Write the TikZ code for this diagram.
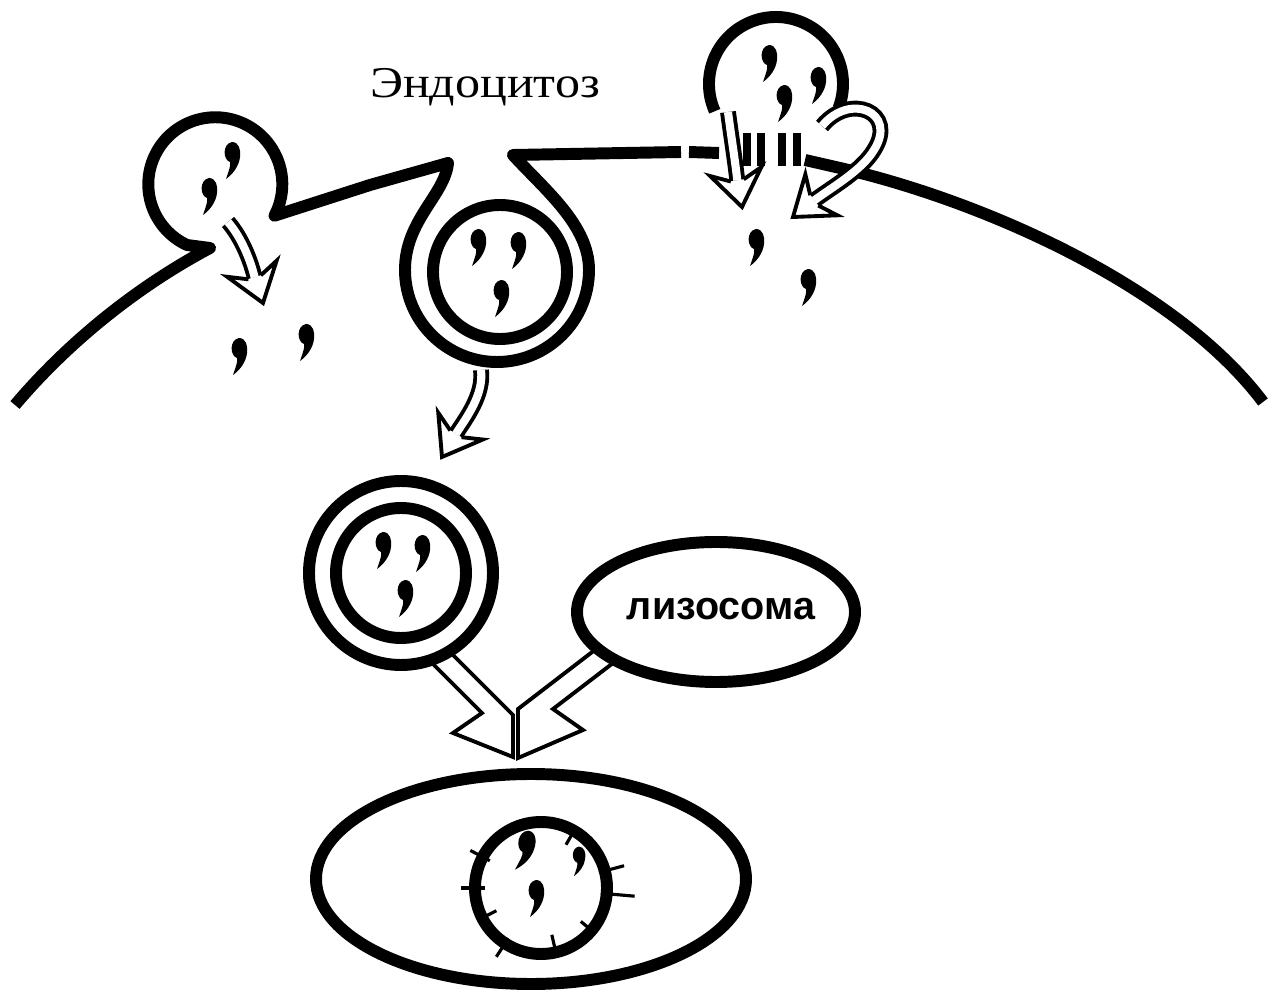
\documentclass[tikz,border=0pt]{standalone}
\usepackage{fontspec}
\setmainfont{Liberation Serif}
\newfontfamily\labelfont{Liberation Sans}
\usetikzlibrary{calc}

\tikzset{
	membrane/.style={line width=6.8pt, line join=round},
	hollow/.style={double=white, double distance=4.6pt, line width=2.2pt},
	hollowbox/.style={fill=white, line width=2.2pt, line join=miter},
	arrowhead/.pic={
		\fill[white] (0,0) -- (-36,-26) -- (-27,-6.5) -- (-27,6.5) -- (-36,26) -- cycle;
		\draw[line width=2.2pt, line join=miter] (-27,-6.5) -- (-36,-26) -- (0,0) -- (-36,26) -- (-27,6.5);
	},
	speck/.pic={
		\fill (1,-18) .. controls (8,-18) and (10,-10) .. (9,-3)
			.. controls (8,6) and (2,14) .. (-5,19)
			.. controls (-2,10) and (0,5) .. (-1,2)
			.. controls (-8,0) and (-9,-16) .. (1,-18) -- cycle;
	}
}

\begin{document}
\begin{tikzpicture}[x=0.02cm, y=-0.02cm]
	\useasboundingbox (0,0) rectangle (1272,996);

	\pgfmathsetmacro{\tipback}{27}

	% draw membrane: budding vesicle, then the pit
	\draw[membrane] (15,405) .. controls (70,340) and (140,285) .. (210,248) -- (187,245)
		arc[start angle=115, end angle=388, radius=67] -- (370,185) -- (448,163)
		.. controls (445,195) and (405,220) .. (405,270)
		arc[start angle=180, end angle=0, radius=92]
		.. controls (589,225) and (545,190) .. (513,155) -- (681,152);
	\draw[membrane] (689,152) -- (719,153); % broken piece

	% draw fusing vesicle
	\draw[membrane] (776,84) ++(156:67) arc[start angle=156, end angle=381, radius=67];
	\foreach \x in {733,747,761,782,797}
		\draw[line width=4.5pt] (\x,133) -- (\x,166);
	\draw[membrane] (805,160) -- (840,168) .. controls (980,200) and (1175,285) .. (1263,402);

	% draw vesicle inside the pit
	\draw[membrane] (500,272) circle[radius=67];

	% draw arrows from the lower vesicle and the lysosome
	\draw[hollowbox] (429,660) -- (482,713) -- (453,733) -- (513,757) -- (513,715) -- (450,652) -- cycle;
	\draw[hollowbox] (600,646) -- (518,709) -- (518,758) -- (583,730) -- (553,709) -- (617,660) -- cycle;

	% draw lower vesicle
	\draw[membrane] (401,573) circle[radius=92];
	\draw[membrane] (401,573) circle[radius=65];

	% draw lysosome
	\draw[membrane] (716,612) ellipse[x radius=139, y radius=70];
	\node[font=\labelfont\bfseries\fontsize{22.5}{26}\selectfont, anchor=base] (lyso) at (721,620) {лизосома};

	% draw fused vesicle
	\draw[membrane] (531,879) ellipse[x radius=215, y radius=105];
	\draw[membrane] (541,888) circle[radius=66];
	\foreach \a/\ri/\ro in {208/58/80, 180/56/80, 123/60/82, 345/60/86, 5/60/94, 153/50/66, 77/48/64, 40/52/66, 300/50/64}
		\draw[line width=1.8pt] ($(541,888)+(\a:\ri)$) -- ($(541,888)+(\a:\ro)$);

	% label
	\node[font=\fontsize{25}{30}\selectfont, anchor=base, xscale=1.14] (endo) at (485,98) {Эндоцитоз};

	% draw specks
	\foreach \px/\py in {231/160, 208/196, 238/356, 305/342, 477/247, 517/250, 500/298,
		382/550, 421/553, 404/598, 768/63, 817/85, 783/103, 755/247, 807/287, 535/898}
		\pic at (\px,\py) {speck};
	\pic[scale=1.1, rotate=-10] at (524,850) {speck};
	\pic[scale=0.8] at (578,861) {speck};

	% arrow out of the budding vesicle
	\coordinate (tipA) at (263,303);
	\draw[hollow] (228,222) .. controls (242,238) and (251,262) .. ($(tipA)+(252:\tipback)$);
	\pic[rotate=-72] at (tipA) {arrowhead};

	% arrow out of the pit
	\coordinate (tipB) at (442,457);
	\draw[hollow] (481,370) .. controls (484,395) and (466,418) .. ($(tipB)+(301:\tipback)$);
	\pic[rotate=-121] at (tipB) {arrowhead};

	% arrows out of the fusing vesicle
	\coordinate (tipC) at (742,207);
	\draw[hollow] (728,112) .. controls (731,135) and (735,160) .. ($(tipC)+(260:\tipback)$);
	\pic[rotate=-80] at (tipC) {arrowhead};

	\coordinate (tipD) at (793,217);
	\draw[hollow] (822,126) .. controls (850,92) and (898,112) .. (874,150)
		.. controls (862,170) and (834,186) .. ($(tipD)+(322:\tipback)$);
	\pic[rotate=-142] at (tipD) {arrowhead};
\end{tikzpicture}
\end{document}
